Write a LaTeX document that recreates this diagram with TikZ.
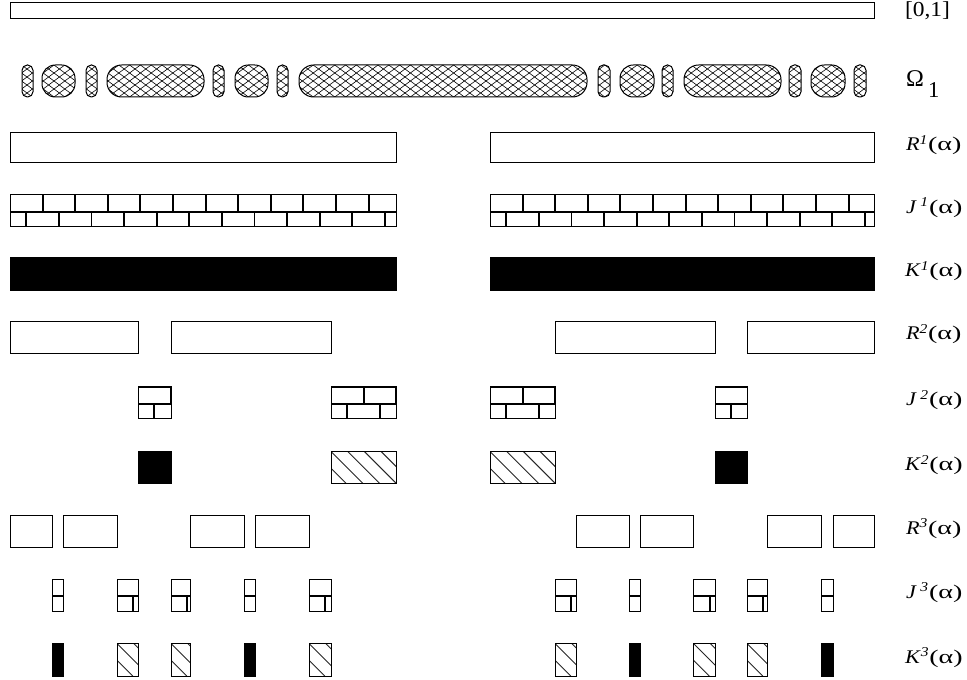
\documentclass[tikz,border=0pt]{standalone}
\usepackage{fontspec}
\setmainfont{Liberation Serif}
\usepackage{graphicx}
\tikzset{
  outline/.style={draw=black, line width=0.75pt},
  brickline/.style={draw=black, line width=1.4pt},
  hatchline/.style={draw=black!85, line width=0.7pt},
  xline/.style={draw=black, line width=0.45pt},
  lab/.style={anchor=base west, inner sep=0pt, outer sep=0pt},
}
\newcommand{\plainbox}[4]{\draw[outline] (#1,#3) rectangle (#2,#4);}
\newcommand{\solidbox}[4]{\fill[black] (#1,#3) rectangle (#2,#4); \draw[outline] (#1,#3) rectangle (#2,#4);}
\newcommand{\hatchbox}[4]{%
  \begin{scope}
    \clip (#1,#3) rectangle (#2,#4);
    \foreach \k in {-2,...,4} \draw[hatchline] ({#1+\k*16.7},#3) -- ({#1+\k*16.7+(#4-#3)},#4);
  \end{scope}
  \draw[outline] (#1,#3) rectangle (#2,#4);}
\newcommand{\brickbox}[4]{%
  \begin{scope}
    \clip (#1,#3) rectangle (#2,#4);
    \pgfmathsetmacro\bmid{#3+0.54*(#4-#3)}
    \draw[brickline] (#1,#3) -- (#2,#3);
    \draw[brickline] (#1,\bmid) -- (#2,\bmid);
    \foreach \k in {0,...,12} {
      \draw[brickline] ({#1+\k*32.6},#3) -- ({#1+\k*32.6},\bmid);
      \draw[brickline] ({#1+16.3+\k*32.6},\bmid) -- ({#1+16.3+\k*32.6},#4);
    }
  \end{scope}
  \draw[outline] (#1,#3) rectangle (#2,#4);}
\newcommand{\crossoval}[3]{%
  \begin{scope}
    \clip[rounded corners=#3] (#1,65) rectangle (#2,97);
    \pgfmathtruncatemacro\kmin{floor((#1-46)/10.8)}
    \pgfmathtruncatemacro\kmax{ceil((#2+46)/10.8)}
    \foreach \k in {\kmin,...,\kmax} {
      \draw[xline] ({\k*10.8},65) -- ({\k*10.8+43.2},97);
      \draw[xline] ({\k*10.8},65) -- ({\k*10.8-43.2},97);
    }
  \end{scope}
  \draw[outline, rounded corners=#3] (#1,65) rectangle (#2,97);}
% label: #1 letter, #2 superscript, #3 extra gap
\newcommand{\lbl}[3]{\fontsize{14.5}{16}\selectfont\scalebox{1.15}[1]{\textit{#1}#3\textsuperscript{\textit{#2}}}\scalebox{1.45}[1]{(α)}}
\begin{document}
\begin{tikzpicture}[x=0.75pt,y=-0.75pt]
\useasboundingbox (0,0) rectangle (967,680);
% [0,1]
\plainbox{10}{874}{3}{19}
% Omega_1
\foreach \a/\b/\r in {22/33/4pt, 42/75/10pt, 86/97/4pt, 107/204/11pt, 213/224/4pt, 235/268/10pt, 277/288/4pt, 299/587/11pt,
  598/610/4pt, 620/654/10pt, 662/673/4pt, 684/781/11pt, 789/801/4pt, 811/845/10pt, 854/866/4pt} {\crossoval{\a}{\b}{\r}}
% R1 J1 K1
\plainbox{10}{396}{133}{163}
\plainbox{490}{874}{133}{163}
\brickbox{10}{396}{194.5}{226.5}
\brickbox{490}{874}{194.5}{226.5}
\solidbox{10}{396}{258}{290.5}
\solidbox{490}{874}{258}{290.5}
% R2
\plainbox{10}{138}{321.5}{354}
\plainbox{171}{331}{321.5}{354}
\plainbox{555}{715}{321.5}{354}
\plainbox{747}{874}{321.5}{354}
% J2
\brickbox{138}{171}{387}{419}
\brickbox{331}{396}{387}{419}
\brickbox{490}{555}{387}{419}
\brickbox{715}{747}{387}{419}
% K2
\solidbox{138}{171}{451.5}{484}
\hatchbox{331}{396}{451.5}{484}
\hatchbox{490}{555}{451.5}{484}
\solidbox{715}{747}{451.5}{484}
% R3
\foreach \a/\b in {10/52.5, 63/117, 190.5/244, 255/309, 576/629.5, 640/693.5, 767/821, 833/874}
  {\plainbox{\a}{\b}{515}{547.5}}
% J3
\foreach \a/\b in {52.5/63, 117/138, 171/190.5, 244/255, 309/331, 555/576, 629.5/640, 693.5/715, 747/767, 821/833}
  {\brickbox{\a}{\b}{579}{611}}
% K3
\foreach \a/\b in {52.5/63, 244/255, 629.5/640, 821/833} {\solidbox{\a}{\b}{643.5}{676}}
\foreach \a/\b in {117/138, 171/190.5, 309/331, 555/576, 693.5/715, 747/767} {\hatchbox{\a}{\b}{643.5}{676}}
% labels
\node[lab] (t01) at (905,16.5) {\fontsize{16}{18}\selectfont\scalebox{1.1}[1]{[0,1]}};
\node[lab] (tom) at (906,87) {\fontsize{18}{20}\selectfont Ω};
\node[lab] (tom1) at (928,98) {\fontsize{17}{20}\selectfont 1};
\node[lab] (tR1) at (906,151) {\lbl{R}{1}{}};
\node[lab] (tJ1) at (906,213.5) {\lbl{J}{1}{\,}};
\node[lab] (tK1) at (905,277) {\lbl{K}{1}{}};
\node[lab] (tR2) at (906,340) {\lbl{R}{2}{}};
\node[lab] (tJ2) at (906,406) {\lbl{J}{2}{\,}};
\node[lab] (tK2) at (905,471) {\lbl{K}{2}{}};
\node[lab] (tR3) at (906,534) {\lbl{R}{3}{}};
\node[lab] (tJ3) at (906,598) {\lbl{J}{3}{\,}};
\node[lab] (tK3) at (905,663) {\lbl{K}{3}{}};
\end{tikzpicture}
\end{document}
